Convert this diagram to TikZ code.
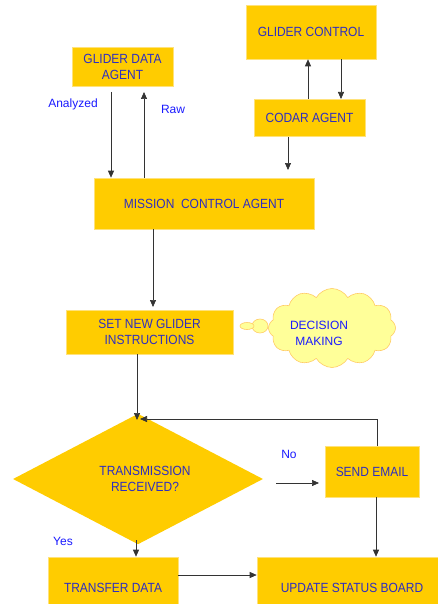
\documentclass[tikz,border=0pt]{standalone}
\usepackage{fontspec}
\setmainfont{Liberation Sans}
\newfontfamily\boxfont[FakeStretch=0.9]{Liberation Sans}
\usetikzlibrary{shapes.geometric,shapes.symbols,arrows.meta}
\definecolor{gold}{HTML}{FFCC00}
\definecolor{goldedge}{HTML}{FFE27A}
\definecolor{boxtext}{HTML}{2E2EC0}
\definecolor{lblblue}{HTML}{1A1AFF}
\definecolor{cloudfill}{HTML}{FFFF99}
\definecolor{cloudedge}{HTML}{FFCC66}
\begin{document}
\begin{tikzpicture}[x=1pt,y=-1pt,
  box/.style={rectangle, fill=gold, draw=goldedge, line width=0.6pt, text=boxtext,
    font=\boxfont\fontsize{13.3}{16}\selectfont, align=center, inner sep=0pt},
  lbl/.style={text=lblblue, font=\fontsize{12}{16}\selectfont, align=center, inner sep=0pt},
  arr/.style={-{Triangle[length=7pt,width=6pt]}, draw=black!80, line width=0.7pt}]
\useasboundingbox[fill=white] (0,0) rectangle (438,604);

% boxes
\node[box, minimum width=101pt, minimum height=39pt] (gda) at (122.5,66.5) {GLIDER DATA\\AGENT};
\node[box, minimum width=130pt, minimum height=54pt] (gc) at (311,32) {GLIDER CONTROL};
\node[box, minimum width=111pt, minimum height=37pt] (codar) at (309.5,117.5) {CODAR AGENT};
\node[box, minimum width=220pt, minimum height=51pt] (mca) at (204,203.5) {MISSION\ \ CONTROL AGENT};
\node[box, minimum width=167pt, minimum height=44pt] (sng) at (149.5,332) {SET NEW GLIDER\\INSTRUCTIONS};
\node[diamond, fill=gold, draw=none, minimum width=250pt, minimum height=114pt, inner sep=0pt, text=boxtext,
  font=\boxfont\fontsize{13.3}{16}\selectfont, align=center] (dia) at (138,479) {\hspace*{14pt}TRANSMISSION\\\hspace*{14pt}RECEIVED?};
\node[box, minimum width=94pt, minimum height=51pt] (send) at (372,471.5) {SEND EMAIL};
\node[box, minimum width=130pt, minimum height=62pt] (transfer) at (113,588) {TRANSFER DATA};
\node[box, minimum width=190pt, minimum height=62pt] (update) at (352,588) {UPDATE STATUS BOARD};

% cloud
\node[cloud, cloud puffs=12, cloud puff arc=120, aspect=1.6, fill=cloudfill, draw=cloudedge, line width=0.6pt,
  minimum width=127pt, minimum height=79pt, inner sep=0pt] (cl) at (332,328) {};
\draw[fill=cloudfill, draw=cloudedge, line width=0.6pt] (260,326) ellipse [x radius=8pt, y radius=7pt];
\draw[fill=cloudfill, draw=cloudedge, line width=0.6pt] (247,326) ellipse [x radius=7pt, y radius=3.5pt];
\node[lbl] (dm) at (319,333) {DECISION\\MAKING};

% labels
\node[lbl] (lan) at (73,104) {Analyzed};
\node[lbl] (lraw) at (173,109) {Raw};
\node[lbl] (lno) at (289,454) {No};
\node[lbl] (lyes) at (63,541) {Yes};

% coordinates
\coordinate (a1) at (111,92);
\coordinate (r1) at (144,92);
\coordinate (g1) at (308,99);
\coordinate (g2) at (341,99);
\coordinate (c1) at (288,137);
\coordinate (c2) at (288,170);
\coordinate (m1) at (153,307);
\coordinate (dtop) at (137,420);
\coordinate (fb0) at (377,446);
\coordinate (fb) at (140,419);
\coordinate (n1) at (276,483);
\coordinate (n2) at (319,483);
\coordinate (y1) at (136,540);
\coordinate (t1) at (178,575);
\coordinate (s1) at (376,497);

% connectors
\draw[arr] (a1) -- (a1 |- mca.north);
\draw[arr] (r1 |- mca.north) -- (r1);
\draw[arr] (g1) -- (g1 |- gc.south);
\draw[arr] (g2 |- gc.south) -- (g2);
\draw[arr] (c1) -- (c2);
\draw[arr] (m1 |- mca.south) -- (m1);
\draw[arr] (dtop |- sng.south) -- (dtop);
\draw[arr] (fb0) |- (fb);
\draw[arr] (n1) -- (n2);
\draw[arr] (y1) -- (y1 |- transfer.north);
\draw[arr] (t1) -- (t1 -| update.west);
\draw[arr] (s1) -- (s1 |- update.north);
\end{tikzpicture}
\end{document}
